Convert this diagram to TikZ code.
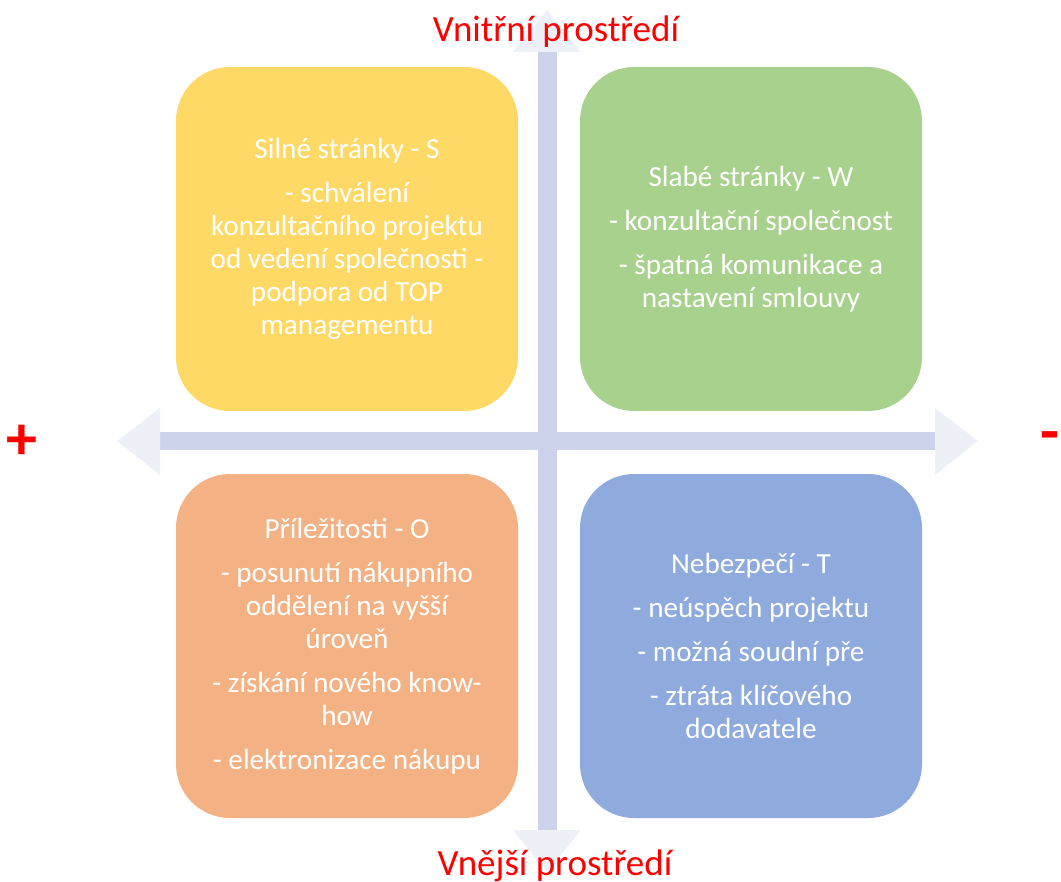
\documentclass[tikz,border=0pt]{standalone}
\usepackage{fontspec}
\setmainfont{Carlito}
\definecolor{swotyellow}{HTML}{FFD966}
\definecolor{swotgreen}{HTML}{A9D18E}
\definecolor{swotorange}{HTML}{F4B183}
\definecolor{swotblue}{HTML}{8FAADC}
\definecolor{swotred}{HTML}{FF0000}
\definecolor{axisshaft}{HTML}{CDD3EA}
\definecolor{axishead}{HTML}{EEF0F8}
\begin{document}
\begin{tikzpicture}[x=0.5pt,y=-0.5pt,
quad/.style={shape=rectangle,rounded corners=27pt,minimum width=171pt,minimum height=172pt,inner sep=0pt,text=white,align=center,font=\fontsize{14.6}{16.5}\selectfont},
axislabel/.style={text=swotred,font=\fontsize{18.5}{20}\selectfont},
sign/.style={text=swotred,font=\fontsize{31}{31}\selectfont\bfseries},
shaft/.style={fill=axisshaft},
head/.style={fill=axishead}]
\useasboundingbox (0,0) rectangle (1061,882);
\fill[shaft] (538,52) rectangle (557,830);
\fill[shaft] (160,432) rectangle (935,450);
\fill[head] (547,10) -- (581,52) -- (513,52) -- cycle;
\fill[head] (547,872) -- (581,830) -- (513,830) -- cycle;
\fill[head] (117,441) -- (160,408) -- (160,475) -- cycle;
\fill[head] (978,441) -- (935,408) -- (935,475) -- cycle;
\node(S) at (347,239) [quad,fill=swotyellow] {Silné stránky - S\\[5.5pt]- schválení\\konzultačního projektu\\od vedení společnosti -\\podpora od TOP\\managementu};
\node(W) at (751,239) [quad,fill=swotgreen] {Slabé stránky - W\\[5.5pt]- konzultační společnost\\[5.5pt]- špatná komunikace a\\nastavení smlouvy};
\node(O) at (347,646) [quad,fill=swotorange] {Příležitosti - O\\[5.5pt]- posunutí nákupního\\oddělení na vyšší\\úroveň\\[5.5pt]- získání nového know-\\how\\[5.5pt]- elektronizace nákupu};
\node(T) at (751,646) [quad,fill=swotblue] {Nebezpečí - T\\[5.5pt]- neúspěch projektu\\[5.5pt]- možná soudní pře\\[5.5pt]- ztráta klíčového\\dodavatele};
\node(internal) at (556,32) [axislabel] {Vnitřní prostředí};
\node(external) at (555,866) [axislabel] {Vnější prostředí};
\node(plus) at (22,442) [sign] {+};
\node(minus) at (1050,442) [sign] {-};
\end{tikzpicture}
\end{document}
